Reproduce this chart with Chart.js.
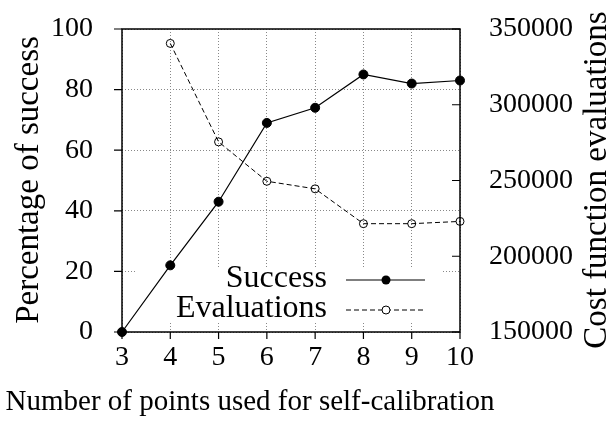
<!DOCTYPE html>
<html><head><meta charset="utf-8">
<script src="https://cdn.jsdelivr.net/npm/chart.js@4"></script>
<style>html,body{margin:0;padding:0;background:#fff}canvas{display:block}</style>
</head><body>
<canvas id="c" width="608" height="425"></canvas>
<script>
const points = [3,4,5,6,7,8,9,10];
const successPct = [0,22,43,69,74,85,82,83];
const evalPoints = [4,5,6,7,8,9,10];
const evaluations = [340500,275500,249500,244500,221500,221500,223000];
const xTitle = 'Number of points used for self-calibration';
const yTitle = 'Percentage of success';
const y2Title = 'Cost function evaluations';
const legendLabels = ['Success','Evaluations'];

const FONT = '"Liberation Serif", "Times New Roman", serif';
const FS = 28;

const framePlugin = {
  id: 'frame',
  beforeDatasetsDraw(chart) {
    const ctx = chart.ctx, a = chart.chartArea;
    ctx.save();
    ctx.fillStyle = '#fff';
    ctx.fillRect(135, 267, 308, 56);
    ctx.strokeStyle = '#000';
    ctx.lineWidth = 1.5;
    ctx.strokeRect(a.left, a.top, a.right - a.left, a.bottom - a.top);
    ctx.lineWidth = 1.2;
    const xs = chart.scales.x, ys = chart.scales.y, y2 = chart.scales.y2;
    ctx.beginPath();
    xs.ticks.forEach(t => { const px = xs.getPixelForValue(t.value); ctx.moveTo(px, a.bottom); ctx.lineTo(px, a.bottom + 7); });
    ys.ticks.forEach(t => { const py = ys.getPixelForValue(t.value); ctx.moveTo(a.left - 8, py); ctx.lineTo(a.left, py); });
    y2.ticks.forEach(t => { const py = y2.getPixelForValue(t.value); ctx.moveTo(a.right - 8, py); ctx.lineTo(a.right, py); });
    ctx.stroke();
    ctx.restore();
  },
  afterDraw(chart) {
    const ctx = chart.ctx;
    ctx.save();
    ctx.fillStyle = '#000';
    ctx.font = '29px ' + FONT;
    ctx.textAlign = 'center';
    ctx.textBaseline = 'alphabetic';
    ctx.fillText(xTitle, 250, 410);
    ctx.font = '33px ' + FONT;
    ctx.save();
    ctx.translate(38, 180);
    ctx.rotate(-Math.PI / 2);
    ctx.fillText(yTitle, 0, 0);
    ctx.restore();
    ctx.save();
    ctx.translate(606, 180);
    ctx.rotate(-Math.PI / 2);
    ctx.fillText(y2Title, 0, 0);
    ctx.restore();
    ctx.font = '32px ' + FONT;
    ctx.textAlign = 'right';
    ctx.textBaseline = 'middle';
    ctx.fillText(legendLabels[0], 327, 279);
    ctx.fillText(legendLabels[1], 327, 309);
    ctx.strokeStyle = '#000';
    ctx.lineWidth = 1.2;
    ctx.beginPath(); ctx.moveTo(346, 280); ctx.lineTo(425, 280); ctx.stroke();
    ctx.beginPath(); ctx.arc(386, 280, 4.5, 0, Math.PI * 2); ctx.fill();
    ctx.lineWidth = 1;
    ctx.setLineDash([5, 3]);
    ctx.beginPath(); ctx.moveTo(346, 310); ctx.lineTo(425, 310); ctx.stroke();
    ctx.setLineDash([]);
    ctx.beginPath(); ctx.arc(386, 310, 4, 0, Math.PI * 2); ctx.fillStyle = '#fff'; ctx.fill(); ctx.stroke();
    ctx.restore();
  }
};

const gridOpts = { color: '#888', lineWidth: 1, drawTicks: false };
const tickFont = { family: FONT, size: FS };

new Chart(document.getElementById('c'), {
  type: 'line',
  data: {
    datasets: [
      {
        label: legendLabels[0],
        data: points.map((x, i) => ({ x, y: successPct[i] })),
        yAxisID: 'y',
        borderColor: '#000', borderWidth: 1.2,
        pointRadius: 4.5, pointBackgroundColor: '#000', pointBorderColor: '#000', pointBorderWidth: 1,
        clip: false, tension: 0
      },
      {
        label: legendLabels[1],
        data: evalPoints.map((x, i) => ({ x, y: evaluations[i] })),
        yAxisID: 'y2',
        borderColor: '#000', borderWidth: 1, borderDash: [5, 3],
        pointRadius: 4, pointBackgroundColor: 'rgba(0,0,0,0)', pointBorderColor: '#000', pointBorderWidth: 1,
        clip: false, tension: 0
      }
    ]
  },
  options: {
    responsive: false,
    animation: false,
    devicePixelRatio: 1,
    layout: { padding: { top: 29, left: 0, right: 0, bottom: 0 } },
    plugins: { legend: { display: false }, tooltip: { enabled: false }, title: { display: false } },
    scales: {
      x: {
        type: 'linear', min: 3, max: 10,
        ticks: { stepSize: 1, color: '#000', font: tickFont, padding: 9, maxRotation: 0, callback: v => String(v) },
        grid: gridOpts,
        border: { display: false, dash: [1, 2] },
        afterFit: s => { s.height = 93; s.paddingLeft = 0; s.paddingRight = 0; }
      },
      y: {
        position: 'left', min: 0, max: 100,
        ticks: { stepSize: 20, color: '#000', font: tickFont, padding: 29, callback: v => String(v) },
        grid: gridOpts,
        border: { display: false, dash: [1, 2] },
        afterFit: s => { s.width = 122; s.paddingTop = 0; s.paddingBottom = 0; }
      },
      y2: {
        position: 'right', min: 150000, max: 350000,
        ticks: { stepSize: 50000, color: '#000', font: tickFont, padding: 29, callback: v => String(v) },
        grid: { display: false, drawTicks: false },
        border: { display: false },
        afterFit: s => { s.width = 148; s.paddingTop = 0; s.paddingBottom = 0; }
      }
    }
  },
  plugins: [framePlugin]
});
</script>
</body></html>
